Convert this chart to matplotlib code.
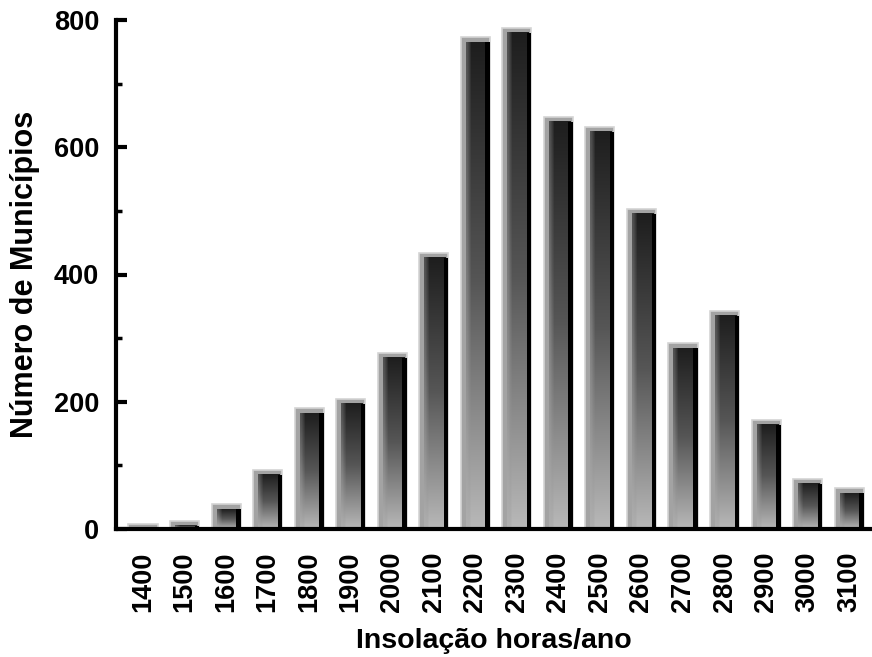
"""Histograma: número de municípios por classe de insolação (horas/ano)."""
import numpy as np
import matplotlib
matplotlib.use("Agg")
import matplotlib.pyplot as plt
from matplotlib.colors import LinearSegmentedColormap

insolacao = [1400, 1500, 1600, 1700, 1800, 1900, 2000, 2100, 2200,
             2300, 2400, 2500, 2600, 2700, 2800, 2900, 3000, 3100]
municipios = [8, 13, 39, 93, 190, 205, 277, 434, 773,
              788, 648, 632, 503, 292, 343, 172, 79, 64]
y_ticks = [0, 200, 400, 600, 800]

plt.rcParams["font.family"] = ["Liberation Sans", "DejaVu Sans"]
plt.rcParams["font.weight"] = "bold"

fig = plt.figure(figsize=(8.72, 6.57), dpi=100)
ax = fig.add_axes([116 / 872, 1 - 529 / 657, 1 - 116 / 872, 509 / 657])

xlim = (-0.65, 17.55)
ylim = (0, 800)
px_x = (xlim[1] - xlim[0]) / (872 - 116)
px_y = (ylim[1] - ylim[0]) / 509

grad = LinearSegmentedColormap.from_list("g", ["#1e1e1e", "#575757", "#b8b8b8"])
col = np.linspace(0, 1, 128).reshape(-1, 1)
img = np.hstack([col * 0.5 + 0.45, col * 0.7 + 0.25, col, col, col, col, col, col, col, col])

w = 0.70
for i, v in enumerate(municipios):
    left = i - w / 2
    # moldura cinza
    ax.bar(i, v, w, color="#a3a3a3", edgecolor="#d4d4d4", linewidth=1.2, zorder=2)
    top = v - 5 * px_y
    if top > 0:
        ax.imshow(img, cmap=grad, aspect="auto", zorder=3, interpolation="bilinear",
                  extent=[left + 5 * px_x, left + w - 3 * px_x, 0, top])
        # sombra preta à direita
        ax.bar(left + w - 4.5 * px_x, top, 4.5 * px_x, align="edge", color="black",
               linewidth=0, zorder=4)

ax.set_xlim(*xlim)
ax.set_ylim(*ylim)

for s in ["top", "right"]:
    ax.spines[s].set_visible(False)
for s in ["left", "bottom"]:
    ax.spines[s].set_linewidth(3)
    ax.spines[s].set_zorder(5)

ax.set_xticks(range(len(insolacao)))
ax.set_xticklabels([str(a) for a in insolacao], rotation=90, fontsize=19.5, fontweight="bold")
ax.tick_params(axis="x", length=0, pad=16)

ax.set_yticks(y_ticks)
ax.set_yticks([100, 300, 500, 700], minor=True)
ax.set_yticklabels([str(t) for t in y_ticks], fontsize=19.5, fontweight="bold")
ax.tick_params(axis="y", which="major", direction="in", length=8, width=3, pad=12)
ax.tick_params(axis="y", which="minor", direction="in", length=4, width=2.5)

ax.set_xlabel("Insolação horas/ano", fontsize=20.5, fontweight="bold", labelpad=12)
ax.set_ylabel("Número de Municípios", fontsize=22, fontweight="bold", labelpad=10)

fig.savefig("out.png", dpi=100)
